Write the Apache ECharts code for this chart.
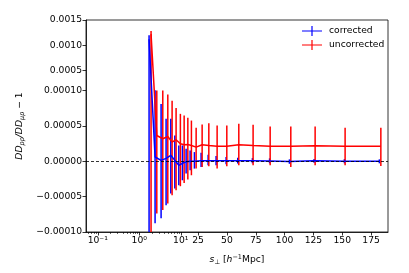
<!DOCTYPE html>
<html><head><meta charset="utf-8">
<script src="https://cdn.jsdelivr.net/npm/echarts@6/dist/echarts.min.js"></script>
<style>html,body{margin:0;padding:0;background:#fff}#c{width:409px;height:273px}</style>
</head><body><div id="c"></div>
<script>
// ---- data ----
const xCorr = [1.72, 2.40, 3.35, 4.42, 5.74, 7.17, 8.95, 11.4, 14.6, 18.1, 21.8, 27.6, 33.7, 40.6, 49.3, 59.4, 72.1, 87.0, 104.2, 125.6, 151.9, 182.2];
const yCorr = [1.12e-3, 6.1e-6, 1.4e-6, 4.2e-6, 8.5e-6, 1.4e-6, -5.6e-6, -2.8e-6, -0.7e-6, 0, 0, 0.7e-6, 0.7e-6, 0.7e-6, 0.7e-6, 0.7e-6, 0.7e-6, 0.4e-6, -0.4e-6, 0.7e-6, 0, 0];
const loCorr = [-3e-4, -8.77e-5, -8.07e-5, -6.2e-5, -4.55e-5, -3.85e-5, -3.38e-5, -2.68e-5, -1.73e-5, -1.27e-5, -1.03e-5, -8.0e-6, -5.6e-6, -5.6e-6, -4.2e-6, -3.2e-6, -2.8e-6, -2.8e-6, -3.5e-6, -2.1e-6, -2.8e-6, -2.8e-6];
const hiCorr = [1.20e-3, 1.065e-4, 8.13e-5, 6.01e-5, 6.01e-5, 3.66e-5, 2.25e-5, 2.25e-5, 1.79e-5, 1.55e-5, 1.31e-5, 1.23e-5, 9.4e-6, 7.5e-6, 6.1e-6, 5.2e-6, 4.6e-6, 4.2e-6, 2.8e-6, 3.2e-6, 3.2e-6, 2.8e-6];

const xUnc = [1.92, 2.64, 3.68, 4.86, 6.17, 7.70, 9.77, 12.9, 16.1, 19.2, 23.3, 28.5, 34.3, 41.5, 49.9, 60.3, 72.7, 87.5, 105.4, 126.5, 152.5, 183.5];
const yUnc = [1.22e-3, 3.66e-5, 3.2e-5, 3.52e-5, 2.72e-5, 3.06e-5, 2.49e-5, 2.35e-5, 2.39e-5, 2.25e-5, 2.01e-5, 2.35e-5, 2.25e-5, 2.15e-5, 2.15e-5, 2.35e-5, 2.25e-5, 2.15e-5, 2.15e-5, 2.2e-5, 2.15e-5, 2.15e-5];
const loUnc = [-3e-4, -7.37e-5, -6.9e-5, -5.96e-5, -4.79e-5, -4.08e-5, -3.52e-5, -3.06e-5, -2.58e-5, -1.97e-5, -1.03e-5, -8.0e-6, -7.0e-6, -1.03e-5, -7.0e-6, -5.6e-6, -5.6e-6, -5.6e-6, -8.0e-6, -5.6e-6, -5.6e-6, -6.6e-6];
const hiUnc = [1.28e-3, 1.045e-4, 1.034e-4, 9.44e-5, 8.59e-5, 7.56e-5, 6.72e-5, 6.48e-5, 6.15e-5, 5.77e-5, 4.75e-5, 5.21e-5, 5.39e-5, 5.07e-5, 5.07e-5, 5.31e-5, 5.17e-5, 4.93e-5, 4.93e-5, 4.93e-5, 4.75e-5, 4.75e-5];

const xTickVals = [0.1, 1, 10, 25, 50, 75, 100, 125, 150, 175];
const xTickLabels = ['10⁻¹', '10⁰', '10¹', '25', '50', '75', '100', '125', '150', '175'];
const xMinorVals = [0.06, 0.07, 0.08, 0.09, 0.2, 0.3, 0.4, 0.5, 0.6, 0.7, 0.8, 0.9, 2, 3, 4, 5, 6, 7, 8, 9];
const yTickVals = [-0.0001, -0.00005, 0, 0.00005, 0.0001, 0.0005, 0.0010, 0.0015];
const yTickLabels = ['−0.00010', '−0.00005', '0.00000', '0.00005', '0.00010', '0.0005', '0.0010', '0.0015'];

// ---- axis transforms (log below 10 / linear above; y compressed above 1e-4, in units of 1e-4) ----
const K = 36.0;
const tx = x => x <= 10 ? Math.log10(x) : 1 + (x - 10) / K;
const ty = v => { const u = v * 1e4; return u <= 1 ? u : 1 + (u - 1) / 14; };

const FONT = 'DejaVu Sans';
const FS = 9.2;

function lineData(xs, ys) { return xs.map((x, i) => [tx(x), ty(ys[i])]); }
function barData(xs, lo, hi) { return xs.map((x, i) => [tx(x), ty(lo[i]), ty(hi[i])]); }
function errSeries(name, color, xs, lo, hi) {
  return {
    name, type: 'custom', clip: true, z: 3,
    itemStyle: { color },
    data: barData(xs, lo, hi),
    encode: { x: 0, y: [1, 2] },
    renderItem: (params, api) => {
      const a = api.coord([api.value(0), api.value(1)]);
      const b = api.coord([api.value(0), api.value(2)]);
      return { type: 'line', shape: { x1: a[0], y1: a[1], x2: b[0], y2: b[1] },
               style: { stroke: color, lineWidth: 1.5 } };
    }
  };
}

const chart = echarts.init(document.getElementById('c'), null, { renderer: 'canvas' });
const xmin = tx(0.052), xmax = tx(189.7);
const ymin = ty(-0.0001), ymax = ty(0.0015);
const nearest = (vals, f, labels) => v => {
  let best = 0, d = Infinity;
  vals.forEach((t, i) => { const dd = Math.abs(f(t) - v); if (dd < d) { d = dd; best = i; } });
  return labels[best];
};

chart.setOption({
  animation: false,
  textStyle: { fontFamily: FONT },
  grid: { left: 86, right: 21, top: 20, bottom: 41, show: true, borderColor: '#000', borderWidth: 0.8 },
  legend: {
    orient: 'vertical', left: 297, top: 21, itemWidth: 20, itemHeight: 10, itemGap: 4,
    data: [{ name: 'corrected', itemStyle: { color: '#0000ff' } }, { name: 'uncorrected', itemStyle: { color: '#ff0000' } }],
    icon: 'path://M0,4.4h20v1.2h-20z M9.4,0h1.2v10h-1.2z',
    textStyle: { fontFamily: FONT, fontSize: FS, color: '#000', padding: [0, 0, 0, 2] }
  },
  xAxis: [{
    type: 'value', min: xmin, max: xmax,
    splitLine: { show: false },
    axisLine: { show: true, onZero: false, lineStyle: { color: '#000', width: 0.8 } },
    axisTick: { show: true, length: 3.5, customValues: xTickVals.map(tx), lineStyle: { color: '#000', width: 0.8 } },
    axisLabel: { customValues: xTickVals.map(tx), formatter: nearest(xTickVals, tx, xTickLabels), fontFamily: FONT, fontSize: FS, color: '#000', margin: 4 },
    name: '{i|s}{sub|⊥} [{i|h}{sup|−1}Mpc]', nameLocation: 'middle', nameGap: 22,
    nameTextStyle: { fontFamily: FONT, fontSize: FS, color: '#000',
      rich: { i: { fontStyle: 'italic', fontSize: FS, fontFamily: FONT },
              sub: { fontSize: 6.5, fontFamily: FONT, padding: [5, 0, 0, 0] },
              sup: { fontSize: 6.5, fontFamily: FONT, padding: [0, 0, 5, 0] } } }
  }, {
    type: 'value', min: xmin, max: xmax, position: 'bottom',
    splitLine: { show: false }, axisLine: { show: false, onZero: false },
    axisTick: { show: true, length: 2, customValues: xMinorVals.map(tx), lineStyle: { color: '#000', width: 0.6 } },
    axisLabel: { show: false }
  }],
  yAxis: {
    type: 'value', min: ymin, max: ymax,
    splitLine: { show: false },
    axisLine: { show: true, onZero: false, lineStyle: { color: '#000', width: 0.8 } },
    axisTick: { show: true, length: 3.5, customValues: yTickVals.map(ty), lineStyle: { color: '#000', width: 0.8 } },
    axisLabel: { customValues: yTickVals.map(ty), formatter: nearest(yTickVals, ty, yTickLabels), fontFamily: FONT, fontSize: FS, color: '#000', margin: 4 }
  },
  series: [
    errSeries('corrected', '#0000ff', xCorr, loCorr, hiCorr),
    { name: 'corrected', type: 'line', data: lineData(xCorr, yCorr), showSymbol: false, symbol: 'none', z: 3,
      lineStyle: { color: '#0000ff', width: 1.5 }, itemStyle: { color: '#0000ff' },
      markLine: { silent: true, symbol: 'none', label: { show: false },
        lineStyle: { color: '#000', type: [3, 2], width: 0.8 }, data: [{ yAxis: 0 }] } },
    errSeries('uncorrected', '#ff0000', xUnc, loUnc, hiUnc),
    { name: 'uncorrected', type: 'line', data: lineData(xUnc, yUnc), showSymbol: false, symbol: 'none', z: 4,
      lineStyle: { color: '#ff0000', width: 1.5 }, itemStyle: { color: '#ff0000' } }
  ]
});

// y-axis title as rotated rich text, centred on the axis through the library's coordinates
const axisX = chart.convertToPixel({ xAxisIndex: 0 }, xmin);
const midY = (chart.convertToPixel({ yAxisIndex: 0 }, ymin) + chart.convertToPixel({ yAxisIndex: 0 }, ymax)) / 2;
chart.setOption({
  graphic: [{
    id: 'yname', type: 'text', silent: true, rotation: Math.PI / 2,
    x: axisX - 66, y: midY,
    style: { text: '{i|DD}{sub|pp}{i|/DD}{sub|μp}{n| − 1}', fontFamily: FONT, fontSize: FS, fill: '#000',
      align: 'center', verticalAlign: 'middle',
      rich: { i: { fontStyle: 'italic', fontSize: FS, fontFamily: FONT },
              n: { fontSize: FS, fontFamily: FONT },
              sub: { fontStyle: 'italic', fontSize: 6.5, fontFamily: FONT, padding: [5, 0, 0, 0] } } }
  }]
});
</script></body></html>
